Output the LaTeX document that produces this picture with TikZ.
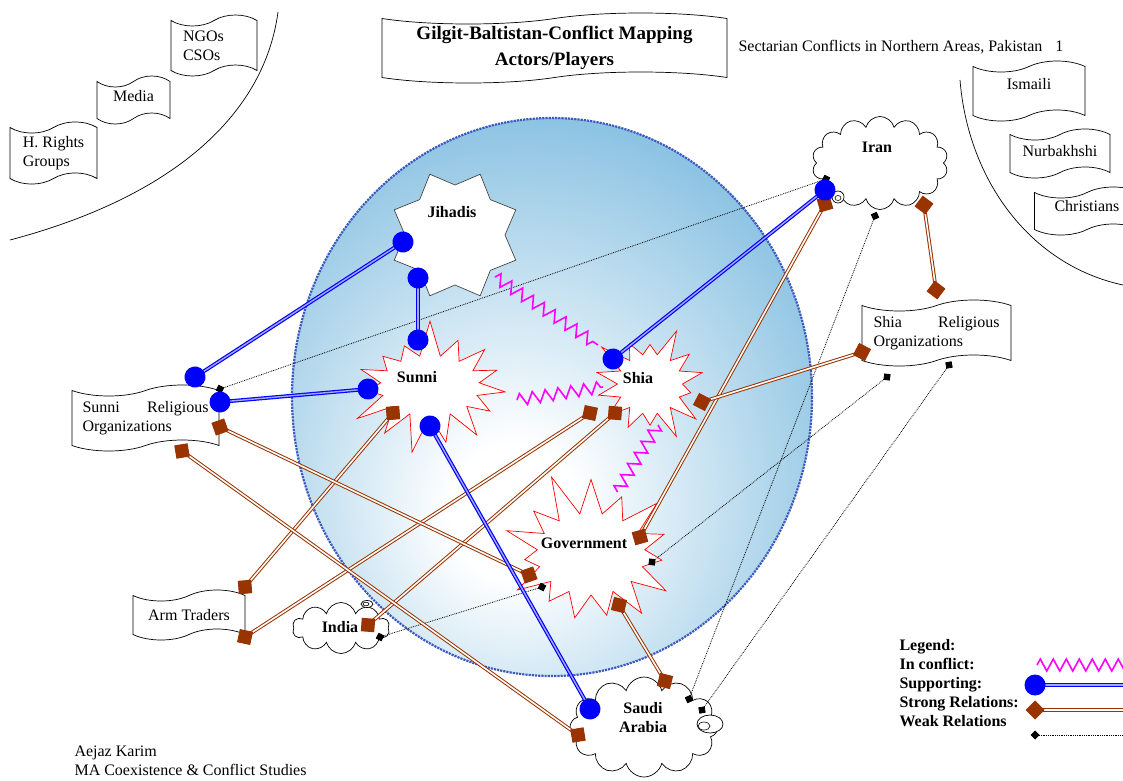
\documentclass[tikz,border=0pt]{standalone}
\usepackage{fontspec}
\setmainfont{Liberation Serif}
\usetikzlibrary{shapes.geometric, shapes.symbols, arrows.meta, decorations.pathmorphing, positioning}
\definecolor{supblue}{RGB}{0,0,255}
\definecolor{relbrown}{RGB}{153,51,0}
\definecolor{conflictpink}{RGB}{255,0,255}
\definecolor{sphereblue}{RGB}{88,168,214}
\definecolor{sphereedge}{RGB}{60,90,190}
\definecolor{stargray}{RGB}{70,70,70}
\pgfdeclareradialshading{sphereshade}{\pgfpoint{-4bp}{-11bp}}{color(0bp)=(white); color(6bp)=(white); color(40bp)=(sphereblue!88!white); color(50bp)=(sphereblue); color(100bp)=(sphereblue)}
\tikzset{
  supdot/.tip={Circle[length=21pt,width=21pt]},
  reldia/.tip={Diamond[length=19pt,width=19pt]},
  weakdia/.tip={Diamond[length=9pt,width=9pt]}
}

\begin{document}
\begin{tikzpicture}[x=1pt, y=-1pt,
    font=\fontsize{16}{19}\selectfont,
    banner/.style={tape, draw, fill=white, line width=0.7pt, tape bend height=11pt, align=left, inner sep=2pt},
    burst/.style={starburst, draw=red, fill=white, line width=0.7pt},
    puff/.style={cloud, draw, fill=white, line width=0.7pt},
    actor/.style={font=\fontsize{16}{19}\selectfont\bfseries, align=center},
    supline/.style={draw=supblue, line width=1.2pt, double=supblue!35!white, double distance=1.4pt},
    support/.style={supline, supdot-supdot, shorten <=-10.5pt, shorten >=-10.5pt},
    relline/.style={draw=relbrown, line width=1pt, double=white, double distance=1.6pt},
    strong/.style={relline, reldia-reldia, shorten <=-9.5pt, shorten >=-9.5pt},
    weak/.style={draw=black, line width=0.8pt, densely dotted, weakdia-weakdia, shorten <=-4.5pt, shorten >=-4.5pt},
    conflict/.style={draw=conflictpink, line width=1.6pt, decorate, decoration={zigzag, segment length=13pt, amplitude=6pt}}
]
\useasboundingbox (0,0) rectangle (1123,780);

% outer circles of actors
\draw[line width=0.7pt] (10,240) .. controls (180,195) and (265,110) .. (278,12);
\draw[line width=0.7pt] (960,80) .. controls (968,180) and (1030,265) .. (1123,285);

\node[banner, minimum width=87pt, minimum height=62pt] (hrights) at (53.5,153) {H. Rights\\Groups};
\node[banner, minimum width=73pt, minimum height=48pt, text depth=9pt] (media) at (133.5,100) {Media};
\node[banner, minimum width=86pt, minimum height=61pt, text width=62pt] (ngos) at (214,45.5) {NGOs\\CSOs};

\node[banner, minimum width=112pt, minimum height=60pt, text depth=14pt] (ismaili) at (1029,91) {Ismaili};
\node[banner, minimum width=100pt, minimum height=49pt, text depth=6pt] (nurbakhshi) at (1060,153.5) {Nurbakhshi};
\node[banner, minimum width=105pt, minimum height=48pt, text depth=10pt] (christians) at (1087,211) {Christians};

% title
\node[banner, minimum width=345pt, minimum height=70pt, align=center,
      font=\fontsize{19}{26}\selectfont\bfseries] (title) at (554.5,48) {Gilgit-Baltistan-Conflict Mapping\\Actors/Players};
\node[anchor=west] (subtitle) at (735,47) {Sectarian Conflicts in Northern Areas, Pakistan\hspace{13pt}1};

% the sphere
\shade[shading=sphereshade] (552,397) ellipse [x radius=260, y radius=279];
\draw[sphereedge, densely dotted, line width=2.2pt] (552,397) ellipse [x radius=260, y radius=279];

% actors
\node[star, star points=8, star point ratio=0.76, minimum size=100pt, draw=stargray, fill=white, line width=0.7pt] (jihadis) at (455,235) {};
\node[actor] (jihtxt) at (452,212) {Jihadis};

\node[burst, minimum width=175pt, minimum height=137pt, starburst points=15, starburst point height=38pt, random starburst=7] (sunni) at (430,386) {};
\node[actor] (sunnitxt) at (417,377) {Sunni};

\node[burst, minimum width=125pt, minimum height=120pt, starburst points=14, starburst point height=30pt, random starburst=3] (shia) at (650,384) {};
\node[actor] (shiatxt) at (638,378) {Shia};

\node[burst, minimum width=198pt, minimum height=172pt, starburst points=15, starburst point height=45pt, random starburst=11] (govt) at (591,554) {};
\node[actor] (govtxt) at (584,543) {Government};

\node[puff, cloud puffs=14, aspect=1.46, minimum width=136pt, minimum height=93pt] (iran) at (880,163) {};
\node[actor] (irantxt) at (877,147) {Iran};
\draw[line width=0.7pt, fill=white] (838,197) ellipse [x radius=6, y radius=6];
\draw[line width=0.6pt] (838,198) ellipse [x radius=3, y radius=2.5];

\node[puff, cloud puffs=10, aspect=1.9, minimum width=97pt, minimum height=51pt] (india) at (341,628) {};
\node[actor] (indiatxt) at (340,627) {India};
\draw[line width=0.7pt, fill=white] (367,604) ellipse [x radius=6, y radius=3.5];
\draw[line width=0.6pt] (366,604) ellipse [x radius=3, y radius=1.8];

\node[puff, cloud puffs=12, aspect=1.5, minimum width=148pt, minimum height=100pt] (saudi) at (644,727) {};
\node[actor] (sauditxt) at (643,718) {Saudi\\Arabia};
\draw[line width=0.7pt, fill=white] (710,724) ellipse [x radius=13, y radius=9];
\draw[line width=0.6pt] (704,726) ellipse [x radius=6, y radius=4];

\node[banner, minimum width=147pt, minimum height=66pt, text width=126pt] (sunnirel) at (145.5,418)
  {\hbox to 126pt{Sunni\hfill Religious}\\Organizations};
\node[banner, minimum width=149pt, minimum height=66pt, text width=126pt] (shiarel) at (936.5,333)
  {\hbox to 126pt{Shia\hfill Religious}\\Organizations};
\node[banner, minimum width=112pt, minimum height=50pt] (armtraders) at (189,615) {Arm Traders};

% marker points
\coordinate (jihS1) at (403,242);   \coordinate (sunroS1) at (195,377);
\coordinate (jihS2) at (418,278);   \coordinate (sunS1) at (418,340);
\coordinate (sunroS2) at (220,402); \coordinate (sunS2) at (368,389);
\coordinate (iranS) at (825,190);   \coordinate (shiaS) at (613,359);
\coordinate (sunS3) at (430,426);   \coordinate (saudiS) at (590,709);

\coordinate (iranR1) at (924,205);  \coordinate (shiaroR1) at (936,290);
\coordinate (iranR2) at (825,204);  \coordinate (govR1) at (640,537);
\coordinate (shiaR1) at (702,402);  \coordinate (shiaroR2) at (862,352);
\coordinate (shiaR2) at (590,413);  \coordinate (armR1) at (245,637);
\coordinate (shiaR3) at (615,413);  \coordinate (indiaR) at (368,625);
\coordinate (sunR1) at (393,413);   \coordinate (armR2) at (245,587);
\coordinate (sunroR1) at (220,427); \coordinate (govR2) at (529,575);
\coordinate (sunroR2) at (182,451); \coordinate (saudiR1) at (578,735);
\coordinate (govR3) at (619,605);   \coordinate (saudiR2) at (665,681);

\coordinate (sunroW) at (220,389);  \coordinate (iranW1) at (826,179);
\coordinate (iranW2) at (875,216);  \coordinate (saudiW1) at (689,699);
\coordinate (shiaroW1) at (887,377); \coordinate (govW1) at (652,562);
\coordinate (shiaroW2) at (949,365); \coordinate (saudiW2) at (702,710);
\coordinate (indiaW) at (380,637);  \coordinate (govW2) at (542,587);

\coordinate (jihC) at (495,277);    \coordinate (shiaC1) at (598,345);
\coordinate (sunC) at (517,400);    \coordinate (shiaC2) at (603,387);
\coordinate (shiaC3) at (658,425);  \coordinate (govC) at (617,492);

% weak relations
\draw[weak] (sunroW) -- (iranW1);
\draw[weak] (iranW2) -- (saudiW1);
\draw[weak] (shiaroW1) -- (govW1);
\draw[weak] (shiaroW2) -- (saudiW2);
\draw[weak] (indiaW) -- (govW2);

% strong relations
\draw[strong] (iranR1) -- (shiaroR1);
\draw[strong] (iranR2) -- (govR1);
\draw[strong] (shiaR1) -- (shiaroR2);
\draw[strong] (shiaR2) -- (armR1);
\draw[strong] (shiaR3) -- (indiaR);
\draw[strong] (sunR1) -- (armR2);
\draw[strong] (sunroR1) -- (govR2);
\draw[strong] (sunroR2) -- (saudiR1);
\draw[strong] (govR3) -- (saudiR2);

% supporting
\draw[support] (jihS1) -- (sunroS1);
\draw[support] (jihS2) -- (sunS1);
\draw[support] (sunroS2) -- (sunS2);
\draw[support] (iranS) -- (shiaS);
\draw[support] (sunS3) -- (saudiS);

% in conflict
\draw[conflict] (jihC) -- (shiaC1);
\draw[conflict] (sunC) -- (shiaC2);
\draw[conflict] (shiaC3) -- (govC);

% legend
\node[actor, align=left, anchor=north west] (legend) at (896,636)
  {Legend:\\In conflict:\\Supporting:\\Strong Relations:\\Weak Relations};
\coordinate (legC1) at (1037,665);  \coordinate (legC2) at (1130,665);
\coordinate (legS1) at (1035,685);  \coordinate (legS2) at (1130,685);
\coordinate (legR1) at (1035,710);  \coordinate (legR2) at (1130,710);
\coordinate (legW1) at (1035,735);  \coordinate (legW2) at (1130,735);
\draw[conflict] (legC1) -- (legC2);
\draw[supline, supdot-, shorten <=-10.5pt] (legS1) -- (legS2);
\draw[relline, reldia-, shorten <=-9.5pt] (legR1) -- (legR2);
\draw[draw=black, line width=0.8pt, densely dotted, weakdia-, shorten <=-4.5pt] (legW1) -- (legW2);

\node[align=left, anchor=west] (author) at (71,761) {Aejaz Karim\\MA Coexistence \& Conflict Studies};
\end{tikzpicture}
\end{document}
